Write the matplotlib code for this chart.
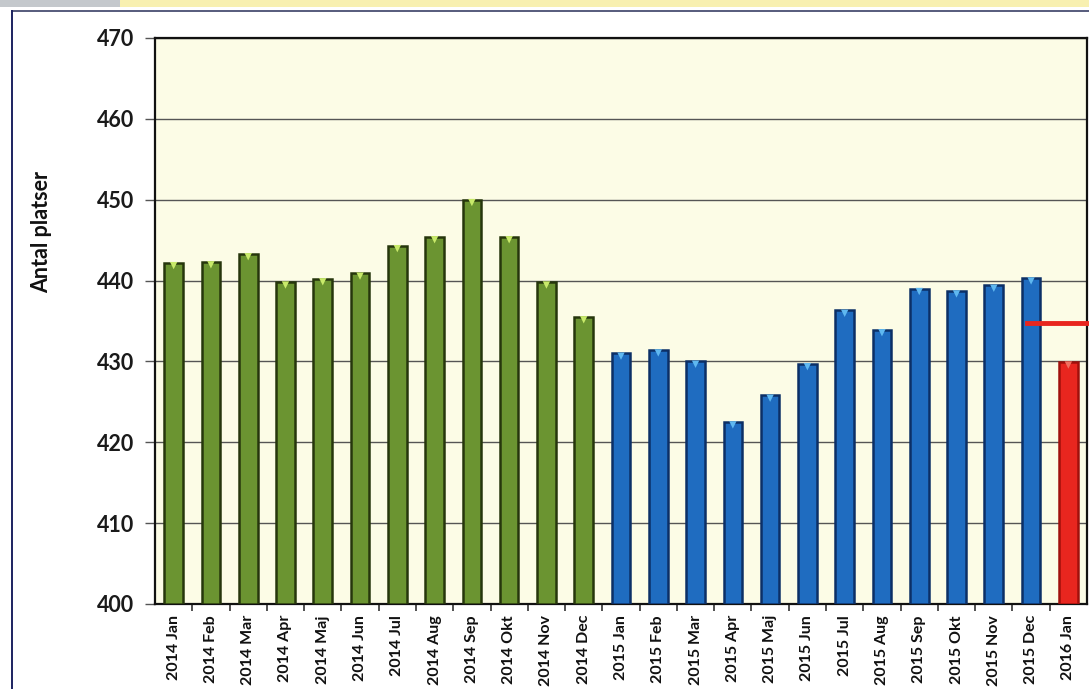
import matplotlib
matplotlib.use("Agg")
import matplotlib.pyplot as plt
import matplotlib.patches as mpatches

# --- data ---
months = ["2014 Jan", "2014 Feb", "2014 Mar", "2014 Apr", "2014 Maj", "2014 Jun",
          "2014 Jul", "2014 Aug", "2014 Sep", "2014 Okt", "2014 Nov", "2014 Dec",
          "2015 Jan", "2015 Feb", "2015 Mar", "2015 Apr", "2015 Maj", "2015 Jun",
          "2015 Jul", "2015 Aug", "2015 Sep", "2015 Okt", "2015 Nov", "2015 Dec",
          "2016 Jan"]
platser = [442.2, 442.3, 443.3, 439.8, 440.2, 440.9, 444.3, 445.4, 450.0, 445.4,
           439.8, 435.5, 431.0, 431.4, 430.0, 422.5, 425.8, 429.7, 436.3, 433.9,
           439.0, 438.7, 439.4, 440.3, 429.9]
year_of = [m[:4] for m in months]
target = 434.7
target_span = [22.9, 24.7]

# --- style ---
FACE = {"2014": "#6b9431", "2015": "#1f6cc0", "2016": "#e8261f"}
EDGE = {"2014": "#26360c", "2015": "#0c2f66", "2016": "#a0100c"}
CAP = {"2014": "#c8ea6a", "2015": "#5fb8f0", "2016": "#f07060"}
PLOT_BG = "#fcfce6"
FONT = ["Lato", "DejaVu Sans"]

plt.rcParams["font.family"] = FONT

fig = plt.figure(figsize=(10.89, 6.89), dpi=100, facecolor="white")

# scan decorations: yellow strip, grey tab and frame
fig.patches.append(mpatches.Rectangle((0, 1 - 7 / 689), 1, 7 / 689, transform=fig.transFigure,
                                      facecolor="#f8f0b0", edgecolor="none"))
fig.patches.append(mpatches.Rectangle((0, 1 - 7 / 689), 120 / 1089, 7 / 689, transform=fig.transFigure,
                                      facecolor="#c4c8cc", edgecolor="none"))
fig.lines.append(plt.Line2D([12 / 1089, 1], [1 - 11 / 689, 1 - 11 / 689], transform=fig.transFigure,
                            color="#3a3f66", lw=1.2))
fig.lines.append(plt.Line2D([12 / 1089, 12 / 1089], [0, 1 - 11 / 689], transform=fig.transFigure,
                            color="#1c2260", lw=1.4))

ax = fig.add_axes([155 / 1089, 1 - 604 / 689, (1087 - 155) / 1089, (604 - 38) / 689])
ax.set_facecolor(PLOT_BG)

x = list(range(len(months)))
faces = [FACE[y] for y in year_of]
edges = [EDGE[y] for y in year_of]
caps = [CAP[y] for y in year_of]

ax.bar(x, [v - 400 for v in platser], bottom=400, width=0.5, color=faces,
       edgecolor=edges, linewidth=1.8, zorder=3)
ax.scatter(x, [v - 0.35 for v in platser], marker="v", s=28, c=caps,
           edgecolors="none", zorder=4)

ax.plot(target_span, [target, target], color="#e8261f", lw=3.5, zorder=5, clip_on=False)

ax.set_xlim(-0.5, len(months) - 0.5)
ax.set_ylim(400, 470)
ax.set_yticks(range(400, 471, 10))
ax.yaxis.grid(True, color="#555555", lw=1.0, zorder=1)
ax.set_axisbelow(True)

ax.set_xticks(x)
ax.set_xticklabels(months, rotation=90, fontsize=11.5, fontweight="bold", color="#111111")
ax.set_xticks([i + 0.5 for i in x[:-1]], minor=True)
ax.tick_params(axis="x", which="major", length=0, pad=8)
ax.tick_params(axis="x", which="minor", length=5, width=1.2, color="#333333", direction="out")
ax.tick_params(axis="y", length=7, width=1.0, color="#555555", labelsize=15.5, pad=8)
for lab in ax.get_yticklabels():
    lab.set_fontweight("bold")
    lab.set_color("#1a1a1a")

ax.set_ylabel("Antal platser", fontsize=15.5, fontweight="bold", color="#111111")
ax.yaxis.set_label_coords(-0.110, 0.657)

for side in ("left", "bottom", "top", "right"):
    ax.spines[side].set_color("#111111")
    ax.spines[side].set_linewidth(1.6)

fig.savefig("out.png", dpi=100, facecolor="white")
